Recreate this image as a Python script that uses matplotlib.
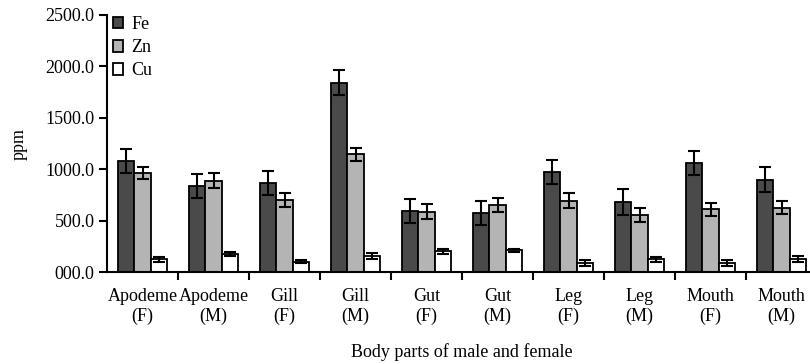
import numpy as np
import matplotlib.pyplot as plt
from matplotlib.ticker import FuncFormatter, FixedLocator

plt.rcParams['font.family'] = ['Liberation Serif', 'DejaVu Serif']

# data
parts = ['Apodeme\n(F)', 'Apodeme\n(M)', 'Gill\n(F)', 'Gill\n(M)', 'Gut\n(F)',
         'Gut\n(M)', 'Leg\n(F)', 'Leg\n(M)', 'Mouth\n(F)', 'Mouth\n(M)']
fe = [1080, 835, 868, 1840, 598, 575, 972, 680, 1058, 900]
fe_err = [115, 115, 120, 120, 115, 120, 115, 125, 115, 118]
zn = [962, 890, 702, 1145, 590, 653, 697, 558, 612, 628]
zn_err = [60, 70, 65, 65, 75, 65, 70, 65, 65, 63]
cu = [126, 178, 103, 155, 202, 212, 88, 126, 94, 126]
cu_err = [25, 17, 17, 30, 22, 17, 30, 22, 30, 30]

series = [('Fe', fe, fe_err, '#4a4a4a'),
          ('Zn', zn, zn_err, '#b4b4b4'),
          ('Cu', cu, cu_err, '#ffffff')]

FS = 13

fig = plt.figure(figsize=(8.1, 3.64), dpi=100)
ax = fig.add_axes([107 / 810, 1 - 272.3 / 364, 710 / 810, 257.5 / 364])

x = np.arange(len(parts))
w = 0.23
for i, (name, vals, errs, col) in enumerate(series):
    ax.bar(x + (i - 1) * w, vals, w, yerr=errs, color=col, edgecolor='black',
           linewidth=1.3, label=name,
           error_kw=dict(ecolor='black', elinewidth=1.5, capsize=4, capthick=1.5))

ax.set_xlim(-0.5, len(parts) - 0.5)
ax.set_ylim(0, 2500)
ax.set_yticks([0, 500, 1000, 1500, 2000, 2500])
ax.yaxis.set_major_formatter(FuncFormatter(lambda v, p: '000.0' if v == 0 else f'{v:.1f}'))
ax.set_xticks(x)
ax.set_xticklabels(parts, fontsize=FS, linespacing=1.25)
ax.xaxis.set_minor_locator(FixedLocator(np.arange(len(parts)) + 0.5))
ax.tick_params(axis='x', which='major', length=0, pad=11)
ax.tick_params(axis='x', which='minor', length=6, width=1.5, direction='out')
ax.tick_params(axis='y', length=6, width=1.5, direction='out', labelsize=FS, pad=3)
for s in ['top', 'right']:
    ax.spines[s].set_visible(False)
for s in ['left', 'bottom']:
    ax.spines[s].set_linewidth(1.5)

ax.set_ylabel('ppm', fontsize=FS, labelpad=13)
ax.set_xlabel('Body parts of male and female', fontsize=FS, labelpad=13)

ax.legend(loc='upper left', bbox_to_anchor=(-0.01, 1.045), frameon=False, fontsize=FS,
          handlelength=0.6, handleheight=0.6, handletextpad=0.45, labelspacing=0.35,
          borderaxespad=0.3)

fig.savefig('out.png', dpi=100)
